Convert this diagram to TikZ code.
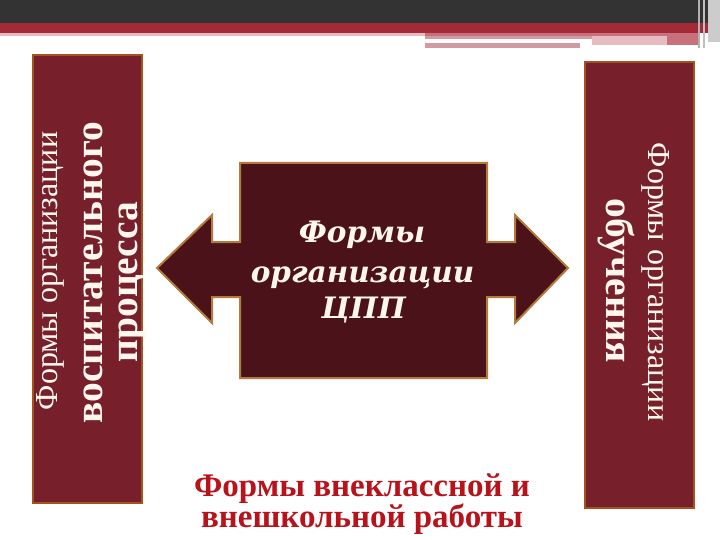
\documentclass[tikz,border=0pt]{standalone}
\usepackage{fontspec}
\setmainfont{Liberation Serif}
\newfontfamily\dvs{DejaVu Serif}
\definecolor{topgray}{HTML}{333333}
\definecolor{topred}{HTML}{A32A37}
\definecolor{pinkA}{HTML}{E6BCC2}
\definecolor{pinkB}{HTML}{D49AA3}
\definecolor{pinkC}{HTML}{C9707D}
\definecolor{boxfill}{HTML}{771F2A}
\definecolor{boxedge}{HTML}{A3531E}
\definecolor{arrowfill}{HTML}{4B1219}
\definecolor{arrowedge}{HTML}{B47A3C}
\definecolor{cream}{HTML}{FFF7EE}
\definecolor{bottomred}{HTML}{B8121B}
\tikzset{
  sidebox/.style={draw=boxedge, line width=2.5pt, fill=boxfill, rectangle, inner sep=0pt},
  regtext/.style={text=cream, inner sep=0pt, anchor=base, font=\fontsize{32}{34}\selectfont},
  boldtext/.style={text=cream, inner sep=0pt, anchor=base, font=\bfseries\fontsize{39.5}{40}\selectfont},
  centertext/.style={text=cream, inner sep=0pt, anchor=base, font=\dvs\bfseries\itshape\fontsize{29.5}{32}\selectfont},
  bottomtext/.style={text=bottomred, inner sep=0pt, anchor=base, font=\bfseries\fontsize{33}{35}\selectfont}
}
\begin{document}
\begin{tikzpicture}[x=1pt,y=-1pt]
\useasboundingbox (0,0) rectangle (720,540);
\fill[white] (0,0) rectangle (720,540);
% top decoration
\fill[topgray] (0,0) rectangle (720,23);
\fill[topred] (0,23) rectangle (720,33);
\fill[pinkA] (0,33) rectangle (425,36);
\fill[pinkC] (425,33) rectangle (700,36);
\fill[pinkB] (425,36) rectangle (592,39);
\fill[pinkB] (425,43) rectangle (580,48);
\fill[pinkA] (592,36) rectangle (667,45);
\fill[pinkC] (667,36) rectangle (700,45);
\fill[gray!60] (698,0) rectangle (700,48);
\fill[gray!50] (703,0) rectangle (705,48);
\fill[gray!40] (708,0) rectangle (720,42);
% side boxes
\node[sidebox, minimum width=109pt, minimum height=448pt] (lbox) at (87.5,279) {};
\node[sidebox, minimum width=109pt, minimum height=446pt] (rbox) at (639.5,285) {};
% left texts
\node[regtext, rotate=90] (lt1) at (57,271) {Формы организации};
\node[boldtext, rotate=90] (lt2) at (102,273) {воспитательного};
\node[boldtext, rotate=90] (lt3) at (137,282) {процесса};
% right texts
\node[regtext, rotate=-90] (rt1) at (648,282) {Формы организации};
\node[boldtext, rotate=-90] (rt2) at (606,281) {обучения};
% center double arrow
\draw[draw=arrowedge, line width=2pt, fill=arrowfill, line join=miter]
  (157,268) -- (212,215) -- (212,242) -- (240,242) -- (240,163) -- (487,163)
  -- (487,242) -- (515,242) -- (515,215) -- (568,268) -- (515,323) -- (515,297)
  -- (487,297) -- (487,378) -- (240,378) -- (240,297) -- (212,297) -- (212,323) -- cycle;
\node[centertext] (ct1) at (362,242) {Формы};
\node[centertext] (ct2) at (362.5,282) {организации};
\node[centertext] (ct3) at (363.5,318) {ЦПП};
% bottom text
\node[bottomtext] (bt1) at (362,496) {Формы внеклассной и};
\node[bottomtext] (bt2) at (362,527) {внешкольной работы};
\end{tikzpicture}
\end{document}
